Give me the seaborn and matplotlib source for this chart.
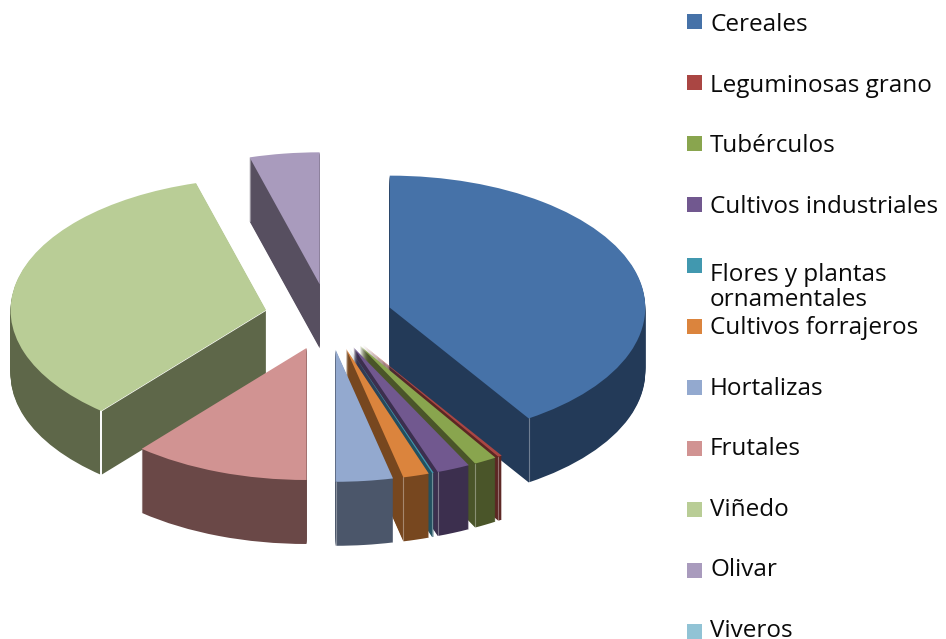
import numpy as np
import matplotlib
matplotlib.use("Agg")
import matplotlib.pyplot as plt
from matplotlib.patches import Rectangle
import seaborn as sns

categories = ["Cereales", "Leguminosas grano", "Tubérculos", "Cultivos industriales",
              "Flores y plantas\nornamentales", "Cultivos forrajeros", "Hortalizas",
              "Frutales", "Viñedo", "Olivar", "Viveros"]
values = [40.85, 0.25, 1.45, 2.10, 0.10, 1.65, 3.60, 11.16, 34.42, 4.42, 0.0]
top_colors = ["#4672A8", "#AA4643", "#89A54E", "#71588F", "#4198AF", "#DB843D",
              "#93A9CF", "#D19392", "#B9CD96", "#A99BBD", "#91C3D5"]
side_colors = ["#233A58", "#5C2623", "#4A5529", "#3C2F4E", "#235261", "#77471F",
               "#4B566A", "#6A4847", "#5E6749", "#574F60", "#4E6A74"]

W, H = 946, 639
RX, RY, CX, CY = 255.5, 132.0, 328.5, 317.0
DEPTH_PX = 64
EXPLODE = 0.25

sns.set_theme(style="white")
plt.rcParams["font.family"] = ["Open Sans", "DejaVu Sans"]

fig = plt.figure(figsize=(W / 100, H / 100), dpi=100, facecolor="white")
ax = fig.add_axes([0, 0, 1, 1])

explode = [EXPLODE] * len(values)
pie_kw = dict(explode=explode, startangle=90, counterclock=False, radius=1.0)

# extruded side walls, stacked from the bottom upward
for k in range(DEPTH_PX, 0, -1):
    ax.pie(values, colors=side_colors, center=(0, -k / RY),
           wedgeprops=dict(linewidth=0, zorder=1), **pie_kw)

# top faces
wedges = ax.pie(values, colors=top_colors, center=(0, 0),
                wedgeprops=dict(linewidth=0, zorder=3), **pie_kw)[0]

# pale seams on the visible outer corner of each slice
for name, w in zip(categories, wedges):
    mid = np.radians((w.theta1 + w.theta2) / 2)
    th = np.radians(w.theta1 if np.cos(mid) > 0 else w.theta2)
    x = w.center[0] + w.r * np.cos(th)
    y = w.center[1] + w.r * np.sin(th)
    is_vine = name == "Viñedo"
    ax.plot([x, x], [y, y - DEPTH_PX / RY], color="white",
            lw=1.4 if is_vine else 0.8, alpha=1.0 if is_vine else 0.35, zorder=2)
    if is_vine:
        ax.plot([x, w.center[0]], [y, w.center[1]], color="white", lw=0.9, zorder=2.5)

ax.set_aspect("auto")
ax.set_xlim(-CX / RX, (W - CX) / RX)
ax.set_ylim((CY - H) / RY, CY / RY)
ax.axis("off")

# legend in pixel coordinates
lax = fig.add_axes([0, 0, 1, 1], facecolor="none")
lax.set_xlim(0, W)
lax.set_ylim(H, 0)
lax.axis("off")
for i, (name, col) in enumerate(zip(categories, top_colors)):
    yc = 21.5 + 61 * i
    lax.add_patch(Rectangle((687, yc - 7.5), 15, 15, facecolor=col, edgecolor="none"))
    # a multi-line label sits on its last baseline, so its first line stays on the row
    extra = 33 * name.count("\n")
    lax.text(710, 31 + 60.6 * i + extra, name, fontsize=17.5, color="#0a0a0a", va="baseline",
             ha="left", linespacing=1.1)

fig.savefig("out.png", dpi=100, facecolor="white")
